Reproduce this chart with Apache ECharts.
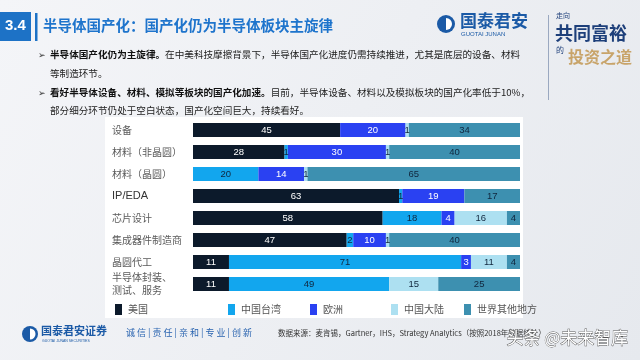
<!DOCTYPE html>
<html>
<head>
<meta charset="utf-8">
<script src="https://cdn.jsdelivr.net/npm/echarts@6/dist/echarts.min.js"></script>
<style>html,body{margin:0;padding:0;background:#eef0f4;}#c{width:640px;height:360px;}</style>
</head>
<body>
<div id="c"></div>
<script>
const categories = ['设备', '材料（非晶圆）', '材料（晶圆）', 'IP/EDA', '芯片设计', '集成器件制造商', '晶圆代工', '半导体封装、\n测试、服务'];
const seriesNames = ['美国', '中国台湾', '欧洲', '中国大陆', '世界其他地方'];
const usa      = [45, 28, 0, 63, 58, 47, 11, 11];
const taiwan   = [0, 1, 20, 1, 18, 2, 71, 49];
const europe   = [20, 30, 14, 19, 4, 10, 3, 0];
const mainland = [1, 1, 1, 0, 16, 1, 11, 15];
const rest     = [34, 40, 65, 17, 4, 40, 4, 25];

const colors = ['#0c1a2b', '#12a6ee', '#2a41f2', '#ade0f1', '#3d90b0'];
const labelColors = ['#ffffff', '#10263d', '#ffffff', '#10263d', '#10263d'];
const values = [usa, taiwan, europe, mainland, rest];
const legendX = [110, 223, 305, 386, 459];

const chart = echarts.init(document.getElementById('c'));
const CJK = '"Noto Sans CJK SC", "Noto Sans", sans-serif';

const series = seriesNames.map((n, i) => ({
  name: n, type: 'bar', stack: 'total', barWidth: 14,
  itemStyle: { color: colors[i] },
  label: {
    show: true, position: 'inside', color: labelColors[i], fontSize: 9.5,
    fontFamily: 'Liberation Sans, Arial, sans-serif',
    formatter: p => (p.value ? String(p.value) : '')
  },
  data: values[i]
}));

const legends = seriesNames.map((n, i) => ({
  data: [n], left: legendX[i], top: 299, itemWidth: 7, itemHeight: 11,
  itemGap: 4, icon: 'rect', selectedMode: false,
  textStyle: { fontSize: 10, color: '#555', fontFamily: CJK, padding: [0, 0, 0, 1] }
}));

const graphic = [
  { type: 'rect', shape: { x: 0, y: 0, width: 640, height: 360 }, style: { fill: new echarts.graphic.LinearGradient(0, 0, 1, 1, [{ offset: 0, color: '#f4f5f8' }, { offset: 1, color: '#e6e9ee' }]) }, z: -10 },
  { type: 'rect', shape: { x: 105, y: 117, width: 418, height: 201 }, style: { fill: '#ffffff' }, z: -9 },
  // header
  { type: 'rect', shape: { x: 0, y: 12, width: 31, height: 29 }, style: { fill: '#1d72c6' } },
  { type: 'text', left: 5, top: 18, style: { text: '3.4', fill: '#fff', font: 'bold 15px "Liberation Sans", Arial, sans-serif' } },
  { type: 'rect', shape: { x: 35, y: 13, width: 2.5, height: 28 }, style: { fill: '#1d72c6' } },
  { type: 'text', left: 43, top: 18, style: { text: '半导体国产化：国产化仍为半导体板块主旋律', fill: '#1e74cc', font: 'bold 14.5px "Noto Sans CJK SC", sans-serif' } },
  // logo top right
  { type: 'circle', shape: { cx: 446, cy: 24, r: 9 }, style: { fill: '#1b5aa6' } },
  { type: 'sector', shape: { cx: 446, cy: 24, r: 6, startAngle: -Math.PI / 2, endAngle: Math.PI / 2 }, style: { fill: '#ffffff' } },
  { type: 'text', left: 460, top: 12, style: { text: '国泰君安', fill: '#1b5aa6', font: 'bold 17px "Noto Sans CJK SC", sans-serif' } },
  { type: 'text', left: 461, top: 31, style: { text: 'GUOTAI JUNAN', fill: '#1b5aa6', font: '6px "Liberation Sans", sans-serif' } },
  { type: 'rect', shape: { x: 548, y: 15, width: 1, height: 85 }, style: { fill: '#9aa8c0' } },
  { type: 'text', left: 556, top: 12, style: { text: '走向', fill: '#1d3f7a', font: '7px "Noto Sans CJK SC", sans-serif' } },
  { type: 'text', left: 555, top: 24, style: { text: '共同富裕', fill: '#1d3f7a', font: 'bold 18px "Noto Sans CJK SC", sans-serif' } },
  { type: 'text', left: 556, top: 46, style: { text: '的', fill: '#1d3f7a', font: '8px "Noto Sans CJK SC", sans-serif' } },
  { type: 'text', left: 568, top: 49, style: { text: '投资之道', fill: '#c8a46a', font: 'bold 16px "Noto Sans CJK SC", sans-serif' } },
  // bullets
  { type: 'text', left: 38, top: 51, style: { text: '➢', fill: '#333', font: '9px "DejaVu Sans", sans-serif' } },
  { type: 'text', left: 50, top: 50, style: { rich: { b: { font: 'bold 9.6px "Noto Sans CJK SC", sans-serif', fill: '#111' }, n: { font: '9.6px "Noto Sans CJK SC", sans-serif', fill: '#222' } }, text: '{b|半导体国产化仍为主旋律。}{n|在中美科技摩擦背景下，半导体国产化进度仍需持续推进，尤其是底层的设备、材料}' } },
  { type: 'text', left: 50, top: 69, style: { text: '等制造环节。', fill: '#222', font: '9.6px "Noto Sans CJK SC", sans-serif' } },
  { type: 'text', left: 38, top: 89, style: { text: '➢', fill: '#333', font: '9px "DejaVu Sans", sans-serif' } },
  { type: 'text', left: 50, top: 88, style: { rich: { b: { font: 'bold 9.6px "Noto Sans CJK SC", sans-serif', fill: '#111' }, n: { font: '9.6px "Noto Sans CJK SC", sans-serif', fill: '#222' } }, text: '{b|看好半导体设备、材料、模拟等板块的国产化加速。}{n|目前，半导体设备、材料以及模拟板块的国产化率低于10%，}' } },
  { type: 'text', left: 50, top: 106, style: { text: '部分细分环节仍处于空白状态，国产化空间巨大，持续看好。', fill: '#222', font: '9.6px "Noto Sans CJK SC", sans-serif' } },
  // footer
  { type: 'circle', shape: { cx: 30, cy: 334, r: 8 }, style: { fill: '#1b5aa6' } },
  { type: 'sector', shape: { cx: 30, cy: 334, r: 5.5, startAngle: -Math.PI / 2, endAngle: Math.PI / 2 }, style: { fill: '#ffffff' } },
  { type: 'text', left: 41, top: 325, style: { text: '国泰君安证券', fill: '#1b5aa6', font: 'bold 11px "Noto Sans CJK SC", sans-serif' } },
  { type: 'text', left: 42, top: 339, style: { text: 'GUOTAI JUNAN SECURITIES', fill: '#1b5aa6', font: '3.5px "Liberation Sans", sans-serif' } },
  { type: 'text', left: 126, top: 328, style: { text: '诚 信 | 责 任 | 亲 和 | 专 业 | 创 新', fill: '#2a64b0', font: '9px "Noto Sans CJK SC", sans-serif' } },
  { type: 'text', left: 278, top: 329, style: { text: '数据来源：麦肯锡，Gartner，IHS，Strategy Analytics（按照2018年数据统计）', fill: '#333', font: '7.5px "Noto Sans CJK SC", sans-serif' } },
  { type: 'text', left: 506, top: 329, style: { text: '头条 @未来智库', fill: '#ffffff', font: '17px "Noto Sans CJK SC", sans-serif', stroke: '#555', lineWidth: 0.8 } }
];

chart.setOption({
  animation: false,
  backgroundColor: '#eef0f4',
  graphic: graphic,
  legend: legends,
  grid: { left: 193, right: 120, top: 119, bottom: 65 },
  xAxis: { type: 'value', min: 0, max: 100, show: false },
  yAxis: {
    type: 'category', data: categories, inverse: true,
    axisLine: { show: false }, axisTick: { show: false },
    axisLabel: {
      align: 'left', margin: 81, fontSize: 10, color: '#5a5a5a', lineHeight: 13,
      fontFamily: CJK,
      formatter: v => v === 'IP/EDA' ? '{e|' + v + '}' : v,
      rich: { e: { fontSize: 11, color: '#333', fontFamily: '"Liberation Sans", Arial, sans-serif' } }
    }
  },
  series: series
});
</script>
</body>
</html>
